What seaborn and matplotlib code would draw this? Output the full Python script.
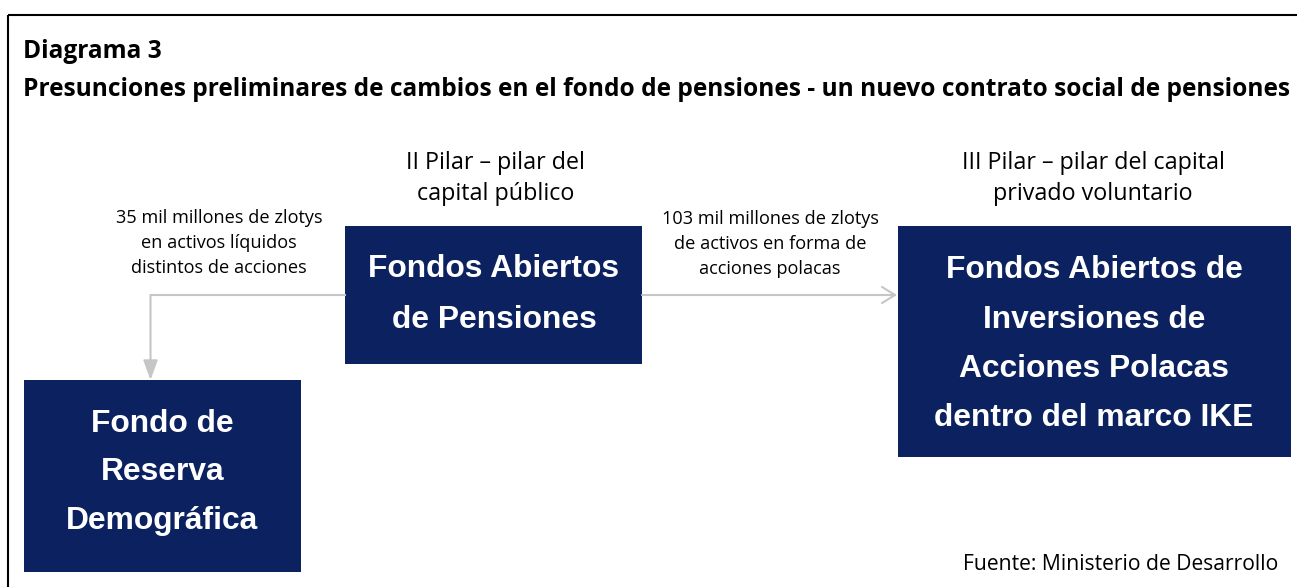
import matplotlib
matplotlib.use("Agg")
import matplotlib.pyplot as plt
import seaborn as sns
from matplotlib.patches import Rectangle, FancyArrowPatch

sns.set_theme(style="white")
plt.rcParams['font.family'] = ['Open Sans', 'DejaVu Sans']

# ---- content ----
title_lines = ["Diagrama 3",
               "Presunciones preliminares de cambios en el fondo de pensiones - un nuevo contrato social de pensiones"]
pillar_labels = ["II Pilar \u2013 pilar del\ncapital público",
                 "III Pilar \u2013 pilar del capital\nprivado voluntario"]
box_labels = ["Fondos Abiertos\nde Pensiones",
              "Fondo de\nReserva\nDemográfica",
              "Fondos Abiertos de\nInversiones de\nAcciones Polacas\ndentro del marco IKE"]
flow_labels = ["35 mil millones de zlotys\nen activos líquidos\ndistintos de acciones",
               "103 mil millones de zlotys\nde activos en forma de\nacciones polacas"]
source_label = "Fuente: Ministerio de Desarrollo"

W, H = 1297, 587
fig = plt.figure(figsize=(W / 100, H / 100), dpi=100)
ax = fig.add_axes([0, 0, 1, 1])
ax.set_xlim(0, W)
ax.set_ylim(H, 0)
ax.axis('off')
renderer = fig.canvas.get_renderer()

navy = '#0b2160'
gray = '#c6c6c6'


def fitted_size(text, target_px, weight='normal', family=None, base=12.0):
    kw = dict(fontsize=base, fontweight=weight)
    if family:
        kw['family'] = family
    t = ax.text(0, 0, text, **kw)
    w = t.get_window_extent(renderer).width
    t.remove()
    return base * target_px / w


def lines_at(text, x, baselines, ha='center', **kw):
    for line, yb in zip(text.split('\n'), baselines):
        ax.text(x, yb, line, ha=ha, va='baseline', **kw)


# frame (top and left lines)
ax.plot([8, W], [15, 15], color='black', lw=1.5, solid_capstyle='butt')
ax.plot([8, 8], [14.5, H], color='black', lw=1.5, solid_capstyle='butt')

# titles
ts = fitted_size(title_lines[1], 1266, weight='bold')
ax.text(23, 58, title_lines[0], fontsize=ts, fontweight='bold', ha='left', va='baseline', color='black')
ax.text(23, 96, title_lines[1], fontsize=ts, fontweight='bold', ha='left', va='baseline', color='black')

# boxes
boxes = [(345, 226, 297, 138), (24, 380, 277, 192), (898, 226, 393, 231)]
for (x, y, w, h) in boxes:
    ax.add_patch(Rectangle((x, y), w, h, facecolor=navy, edgecolor='none'))

box_font = ['Liberation Sans', 'DejaVu Sans']
bs = fitted_size("dentro del marco IKE", 318, weight='bold', family=box_font)
lines_at(box_labels[0], 494, [277, 328], fontsize=bs, fontweight='bold', color='white', family=box_font)
lines_at(box_labels[1], 162.5, [432, 480, 529], fontsize=bs, fontweight='bold', color='white', family=box_font)
lines_at(box_labels[2], 1094, [278, 328, 377, 426], fontsize=bs, fontweight='bold', color='white', family=box_font)

# pillar labels
ps = fitted_size("III Pilar \u2013 pilar del capital", 261)
lines_at(pillar_labels[0], 496, [169, 200], fontsize=ps, color='black')
lines_at(pillar_labels[1], 1093, [169, 200], fontsize=ps, color='black')

# flow labels
fs = fitted_size("103 mil millones de zlotys", 216)
lines_at(flow_labels[0], 219, [223, 248, 273], fontsize=fs, color='black')
lines_at(flow_labels[1], 770, [224, 249, 274], fontsize=fs, color='black')

# arrows
ax.plot([345, 150.5], [295, 295], color=gray, lw=1.5, solid_capstyle='projecting')
ax.add_patch(FancyArrowPatch((150.5, 295), (150.5, 380), arrowstyle='-|>,head_length=12,head_width=4.4',
                             color=gray, lw=1.5, mutation_scale=1, shrinkA=0, shrinkB=0))
ax.add_patch(FancyArrowPatch((642, 295), (897, 295), arrowstyle='->,head_length=9.4,head_width=5.8',
                             color=gray, lw=1.5, mutation_scale=1, shrinkA=0, shrinkB=0))

# source
ss = fitted_size(source_label, 315)
ax.text(1278, 570, source_label, fontsize=ss, ha='right', va='baseline', color='black')

fig.savefig('out.png', dpi=100)
